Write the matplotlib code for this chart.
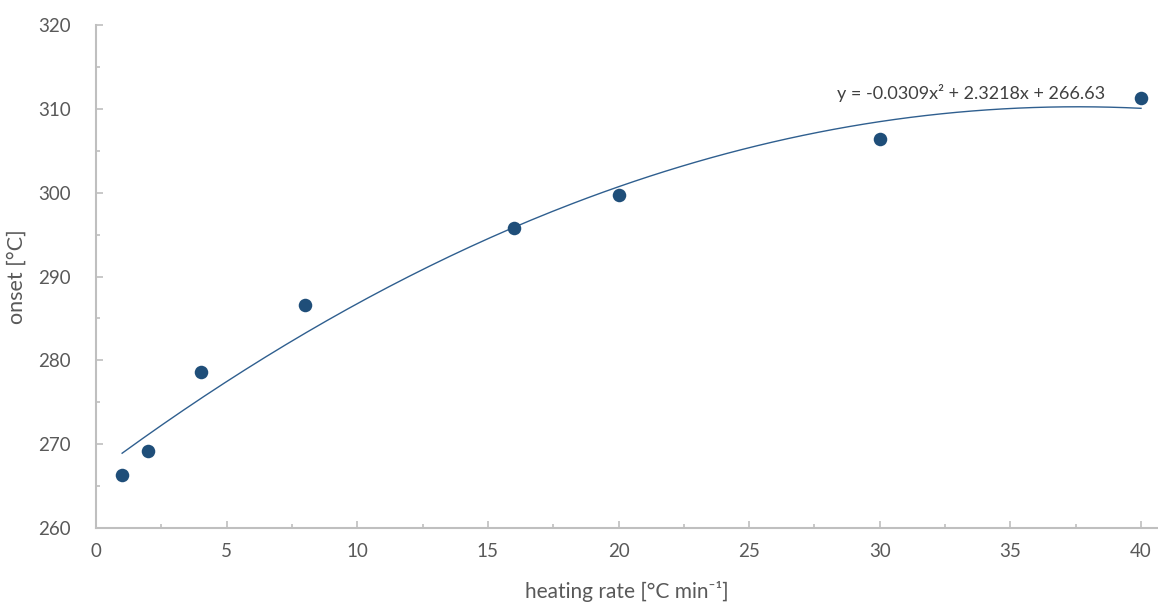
import numpy as np
import matplotlib.pyplot as plt
from matplotlib.ticker import MultipleLocator

plt.rcParams['font.family'] = ['Lato', 'DejaVu Sans']

# measured onset temperatures vs heating rate
heating_rate = [1, 2, 4, 8, 16, 20, 30, 40]
onset = [266.3, 269.2, 278.6, 286.6, 295.8, 299.7, 306.4, 311.3]

# quadratic trendline coefficients (a*x^2 + b*x + c)
coef = [-0.0309, 2.3218, 266.63]

fig = plt.figure(figsize=(11.58, 6.06), dpi=100)
ax = fig.add_axes([96 / 1158, 78 / 606, 1062 / 1158, 503 / 606])

xs = np.linspace(min(heating_rate), max(heating_rate), 200)
ax.plot(xs, np.polyval(coef, xs), color='#2F5F8F', lw=1.0, zorder=2)
ax.scatter(heating_rate, onset, s=95, color='#1F4E79', zorder=3, linewidths=0)

ax.text(28.35, 311.9, 'y = -0.0309x² + 2.3218x + 266.63', fontsize=13,
        color='#404040', ha='left', va='center')

ax.set_xlim(0, 40.65)
ax.set_ylim(260, 320)
ax.xaxis.set_major_locator(MultipleLocator(5))
ax.xaxis.set_minor_locator(MultipleLocator(2.5))
ax.yaxis.set_major_locator(MultipleLocator(10))
ax.yaxis.set_minor_locator(MultipleLocator(5))

for s in ['top', 'right']:
    ax.spines[s].set_visible(False)
for s in ['left', 'bottom']:
    ax.spines[s].set_color('#BFBFBF')
    ax.spines[s].set_linewidth(1.5)

ax.tick_params(which='both', direction='in', color='#BFBFBF', width=1.2,
               labelcolor='#595959', labelsize=13.5)
ax.tick_params(which='major', length=5)
ax.tick_params(which='minor', length=3)
ax.tick_params(axis='x', pad=11)
ax.tick_params(axis='y', pad=18)

ax.set_xlabel('heating rate [°C min⁻¹]', fontsize=15, color='#595959', labelpad=15)
ax.set_ylabel('onset [°C]', fontsize=15.5, color='#595959', labelpad=8)

fig.savefig('out.png', dpi=100)
